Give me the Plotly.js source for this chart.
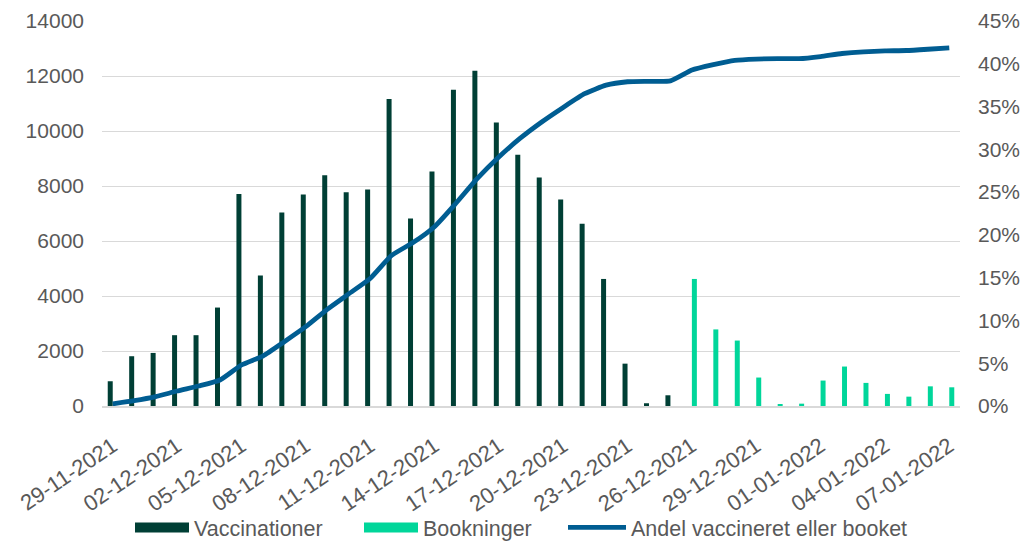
<!DOCTYPE html>
<html>
<head>
<meta charset="utf-8">
<script src="https://cdn.plot.ly/plotly-3.0.1.min.js"></script>
<style>html,body{margin:0;padding:0;background:#fff;}#chart{width:1025px;height:541px;}</style>
</head>
<body>
<div id="chart"></div>
<script>
const dates = ["29-11-2021","30-11-2021","01-12-2021","02-12-2021","03-12-2021","04-12-2021","05-12-2021","06-12-2021","07-12-2021","08-12-2021",
"09-12-2021","10-12-2021","11-12-2021","12-12-2021","13-12-2021","14-12-2021","15-12-2021","16-12-2021","17-12-2021","18-12-2021",
"19-12-2021","20-12-2021","21-12-2021","22-12-2021","23-12-2021","24-12-2021","25-12-2021","26-12-2021","27-12-2021","28-12-2021",
"29-12-2021","30-12-2021","31-12-2021","01-01-2022","02-01-2022","03-01-2022","04-01-2022","05-01-2022","06-01-2022","07-01-2022"];
const tickLabels = ["29-11-2021","02-12-2021","05-12-2021","08-12-2021","11-12-2021","14-12-2021","17-12-2021","20-12-2021","23-12-2021","26-12-2021","29-12-2021","01-01-2022","04-01-2022","07-01-2022"];
const vaccinationer = [900,1810,1930,2575,2575,3580,7710,4750,7040,7690,8390,7770,7870,11160,6820,8530,11500,12190,10310,9140,8310,7510,6630,4620,1540,100,390,
null,null,null,null,null,null,null,null,null,null,null,null,null];
const bookninger = [null,null,null,null,null,null,null,null,null,null,null,null,null,null,null,null,null,null,null,null,null,null,null,null,null,null,null,
4620,2785,2380,1035,60,85,925,1435,840,440,340,715,680];
const andel = [0.25,0.62,1.09,1.75,2.34,3.04,4.79,5.84,7.52,9.27,11.3,13.1,14.9,17.6,19.1,20.96,23.7,26.6,29.1,31.3,33.2,34.9,36.5,37.5,37.9,37.95,38.0,
39.27,39.9,40.4,40.55,40.6,40.6,40.85,41.2,41.4,41.5,41.55,41.7,41.87];
const names = ["Vaccinationer","Bookninger","Andel vaccineret eller booket"];
const cDark = "#003F35", cGreen = "#00D69A", cBlue = "#005D92", cText = "#595959";
const FONT = "Liberation Sans, Arial, sans-serif";

const traces = [
  {type:"bar", x:dates, y:vaccinationer, name:names[0], marker:{color:cDark}, showlegend:false, hoverinfo:"x+y"},
  {type:"bar", x:dates, y:bookninger, name:names[1], marker:{color:cGreen}, showlegend:false, hoverinfo:"x+y"},
  {type:"scatter", mode:"lines", x:dates, y:andel, name:names[2], yaxis:"y2",
   line:{color:cBlue, width:4.8, shape:"spline", smoothing:0.5}, showlegend:false},
  {type:"scatter", mode:"lines", x:[null], y:[null], name:names[0], legend:"legend", line:{color:cDark, width:10}, hoverinfo:"skip"},
  {type:"scatter", mode:"lines", x:[null], y:[null], name:names[1], legend:"legend2", line:{color:cGreen, width:10}, hoverinfo:"skip"},
  {type:"scatter", mode:"lines", x:[null], y:[null], name:names[2], legend:"legend3", yaxis:"y2", line:{color:cBlue, width:4.8}, hoverinfo:"skip"}
];

function leg(xpx, w) {
  return {orientation:"h", xref:"container", yref:"container", x:xpx/1025, xanchor:"left", y:0.063, yanchor:"top",
    font:{family:FONT, size:21.5, color:cText}, itemwidth:w, bgcolor:"rgba(0,0,0,0)"};
}

const layout = {
  width:1025, height:541,
  margin:{l:102, r:65, t:21, b:135, pad:0},
  paper_bgcolor:"#fff", plot_bgcolor:"#fff",
  font:{family:FONT, size:21, color:cText},
  barmode:"group", bargap:0.534, bargroupgap:0,
  xaxis:{type:"category", categoryorder:"array", categoryarray:dates, range:[-0.5,39.5], automargin:false,
    tickmode:"array", tickvals:tickLabels, ticktext:tickLabels, tickangle:-34,
    showgrid:false, showline:true, linecolor:"#d9d9d9", linewidth:1.5, ticks:"",
    ticklabelstandoff:17, tickfont:{family:FONT, size:22, color:cText}},
  yaxis:{range:[0,14000], dtick:2000, tick0:0, showgrid:true, gridcolor:"#d9d9d9", gridwidth:1.3, automargin:false,
    zeroline:false, showline:false, ticks:"", ticklabelstandoff:17, tickformat:"d",
    tickfont:{family:FONT, size:21, color:cText}},
  yaxis2:{range:[0,45], dtick:5, tick0:0, overlaying:"y", side:"right", showgrid:false, zeroline:false, automargin:false,
    showline:false, ticks:"", ticksuffix:"%", ticklabelstandoff:17,
    tickfont:{family:FONT, size:21, color:cText}},
  legend: leg(130, 54),
  legend2: leg(359, 54),
  legend3: leg(563, 58),
  showlegend:true
};
Plotly.newPlot("chart", traces, layout, {displayModeBar:false, responsive:false});
</script>
</body>
</html>
